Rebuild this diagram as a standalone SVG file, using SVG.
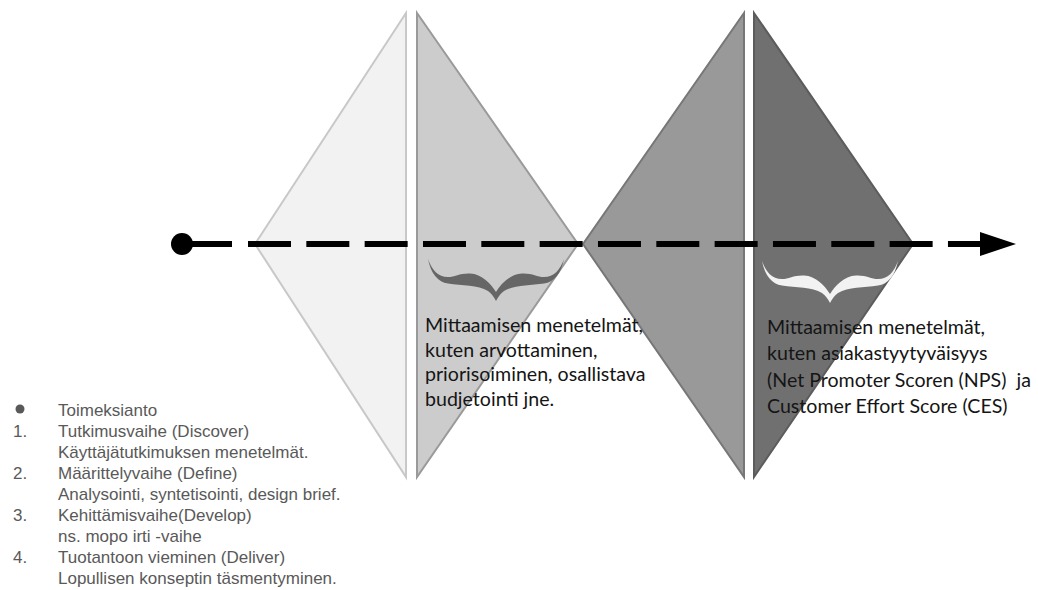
<svg xmlns="http://www.w3.org/2000/svg" width="1038" height="590" viewBox="0 0 1038 590">
  <style>
    .half { stroke-width: 2; stroke-linejoin: miter; }
    .p1 { fill: #f2f2f2; stroke: #c8c8c8; }
    .p2 { fill: #cccccc; stroke: #9a9a9a; }
    .p3 { fill: #999999; stroke: #777777; }
    .p4 { fill: #707070; stroke: #5c5c5c; }
    .note { font-family: Lato, "Open Sans", sans-serif; font-size: 19.6px; fill: #151515; }
    .legend { font-family: "Liberation Sans", Arial, sans-serif; font-size: 17px; fill: #595959; }
    .flow { stroke: #000000; stroke-width: 6; fill: none; }
  </style>
  <defs>
    <marker id="head" markerUnits="userSpaceOnUse" markerWidth="40" markerHeight="30" refX="0" refY="12" orient="auto">
      <polygon points="0,0 36,12 0,24" fill="#000000"/>
    </marker>
    <!-- calligraphic horizontal curly brace, opening downward, tip at (496,301) -->
    <path id="brace" d="M428,259 C431,274 438,282 448,283.5 C462,285.5 478,285 488,291 C492,294 494,297 496,301 C498,297 500,294 504,291 C514,285 530,285.5 544,283.5 C554,282 561,274 564,259 C560,270 554,277 544,277 C537,277 532,273 522,273.5 C510,274 501,284 496,292 C491,284 482,274 470,273.5 C460,273 455,277 448,277 C438,277 432,270 428,259 Z"/>
  </defs>

  <rect width="1038" height="590" fill="#ffffff"/>

  <!-- Double diamond: four half-diamonds -->
  <g id="discover">
    <polygon class="half p1" points="406,13 255,244 406,477"/>
  </g>
  <g id="define">
    <polygon class="half p2" points="417,13 578,244 417,477"/>
  </g>
  <g id="develop">
    <polygon class="half p3" points="744,13 583,244 744,477"/>
  </g>
  <g id="deliver">
    <polygon class="half p4" points="754,13 913,244 754,477"/>
  </g>

  <!-- Process timeline -->
  <g id="connectors">
    <circle cx="182" cy="244" r="11" fill="#000000"/>
    <line class="flow" x1="182" y1="244" x2="232" y2="244"/>
    <path class="flow" d="M248,244 H980" stroke-dasharray="43 15.33" marker-end="url(#head)"/>
  </g>

  <!-- Curly braces -->
  <g id="brace-define">
    <use href="#brace" fill="#666666"/>
  </g>
  <g id="brace-deliver">
    <use href="#brace" fill="#f2f2f2" transform="translate(334,2)"/>
  </g>

  <!-- Measurement notes -->
  <g id="note-define" class="note">
    <text x="425" y="332">Mittaamisen menetelmät,</text>
    <text x="425" y="357">kuten arvottaminen,</text>
    <text x="425" y="381">priorisoiminen, osallistava</text>
    <text x="425" y="406">budjetointi jne.</text>
  </g>
  <g id="note-deliver" class="note">
    <text x="767" y="334">Mittaamisen menetelmät,</text>
    <text x="767" y="360">kuten asiakastyytyväisyys</text>
    <text x="767" y="387" xml:space="preserve">(Net Promoter Scoren (NPS)  ja</text>
    <text x="767" y="413">Customer Effort Score (CES)</text>
  </g>

  <!-- Phase legend -->
  <g id="legend" class="legend">
    <circle cx="20" cy="409" r="4.5" fill="#595959"/>
    <text x="58" y="416">Toimeksianto</text>
    <text x="13" y="437">1.</text>
    <text x="58" y="437">Tutkimusvaihe (Discover)</text>
    <text x="58" y="458">Käyttäjätutkimuksen menetelmät.</text>
    <text x="13" y="479">2.</text>
    <text x="58" y="479">Määrittelyvaihe (Define)</text>
    <text x="58" y="500">Analysointi, syntetisointi, design brief.</text>
    <text x="13" y="521">3.</text>
    <text x="58" y="521">Kehittämisvaihe(Develop)</text>
    <text x="58" y="542">ns. mopo irti -vaihe</text>
    <text x="13" y="563">4.</text>
    <text x="58" y="563">Tuotantoon vieminen (Deliver)</text>
    <text x="58" y="584">Lopullisen konseptin täsmentyminen.</text>
  </g>
</svg>
